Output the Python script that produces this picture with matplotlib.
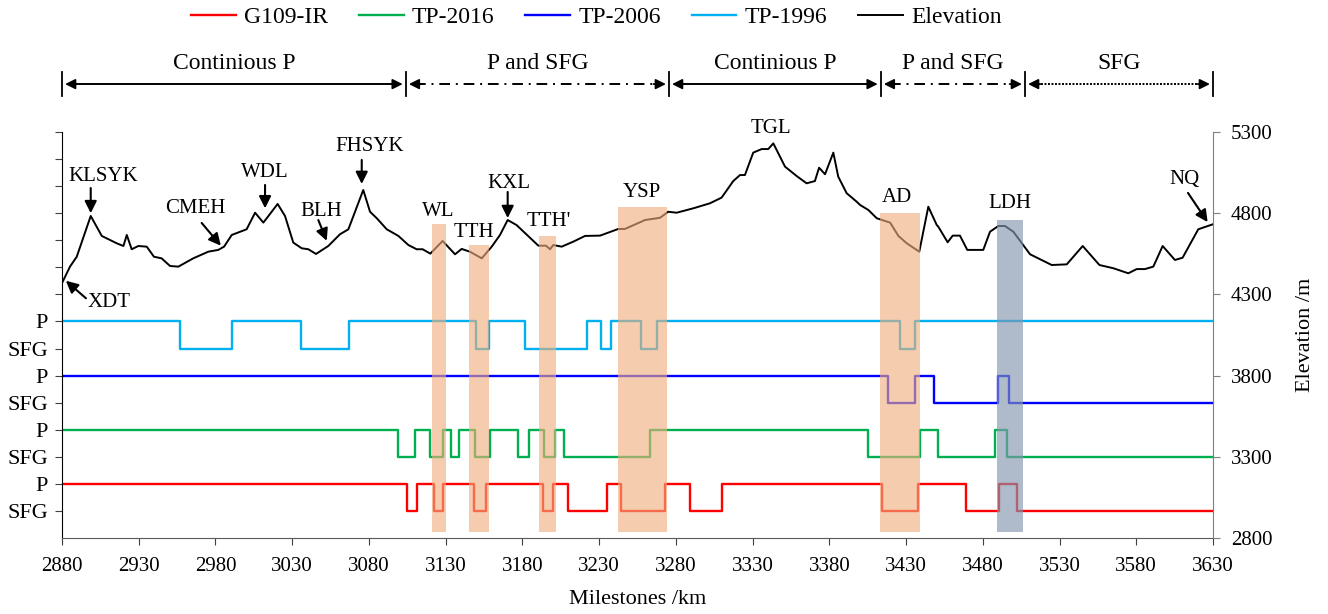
import numpy as np
import matplotlib
matplotlib.use("Agg")
from matplotlib import pyplot as plt
from matplotlib.transforms import blended_transform_factory

plt.rcParams['font.family'] = ['Liberation Serif', 'DejaVu Serif']
plt.rcParams['font.size'] = 15

# ---- data -------------------------------------------------------------
# pavement state along the road: 1 = P, 0 = SFG (steps-post breakpoints)
ir_x = [2880, 3104.5, 3111, 3122.5, 3128.5, 3148.5, 3156, 3193.5, 3200, 3210, 3235, 3244,
        3273, 3289, 3310, 3414.5, 3437.5, 3469, 3490.5, 3502.5, 3630]
ir_s = [1, 0, 1, 0, 1, 0, 1, 0, 1, 0, 1, 0, 1, 0, 1, 0, 1, 0, 1, 0, 0]

tp2016_x = [2880, 3099, 3110, 3120, 3128, 3133.5, 3139, 3149, 3159, 3177, 3184, 3194, 3201,
            3207, 3263, 3405, 3439, 3451, 3488, 3495.5, 3630]
tp2016_s = [1, 0, 1, 0, 1, 0, 1, 0, 1, 0, 1, 0, 1, 0, 1, 0, 1, 0, 1, 0, 0]

tp2006_x = [2880, 3418, 3436, 3448, 3490, 3497, 3630]
tp2006_s = [1, 0, 1, 0, 1, 0, 0]

tp1996_x = [2880, 2957, 2991, 3036, 3067, 3150, 3158, 3182, 3222, 3231, 3238, 3257, 3268,
            3426, 3436, 3630]
tp1996_s = [1, 0, 1, 0, 1, 0, 1, 0, 1, 0, 1, 0, 1, 0, 1, 1]

elev_km = [2880, 2885.2, 2889.6, 2898.7, 2905.9, 2915.6, 2920, 2922.2, 2925.4, 2929.7, 2935.2,
           2939.9, 2944.9, 2950.4, 2955.8, 2965.5, 2975.3, 2981.8, 2985.6, 2990.6, 3000.3,
           3005.8, 3011.2, 3020.5, 3025.3, 3030.7, 3036.2, 3040.5, 3045.5, 3053.5, 3061.1,
           3066.6, 3076.3, 3080.7, 3085.1, 3091.6, 3099.2, 3105.7, 3111.1, 3115, 3120, 3128,
           3136.1, 3140.4, 3145.8, 3153.5, 3160, 3165.4, 3170.4, 3176.2, 3190.4, 3195.4, 3198,
           3200.1, 3205.6, 3213.2, 3220.8, 3230.6, 3242.5, 3246.8, 3259.9, 3269.7, 3275,
           3280.5, 3291.3, 3302.2, 3309.8, 3317.4, 3321.8, 3325, 3330.4, 3335.9, 3340.2,
           3343.5, 3351.1, 3358.7, 3365.2, 3370.6, 3373.3, 3377.2, 3382.6, 3385.8, 3391.3,
           3397.8, 3400, 3405.4, 3410.9, 3419.6, 3425, 3430.4, 3438.6, 3444.5, 3450, 3451,
           3457.1, 3460.4, 3465.1, 3469.9, 3480.3, 3484.7, 3490.1, 3494.5, 3499.9, 3510.8,
           3524.9, 3534.7, 3545.1, 3556, 3565.1, 3574.8, 3580.3, 3585.7, 3591.1, 3597.2,
           3605.2, 3610.2, 3620.4, 3630]
elev_m = [4370, 4471, 4532, 4783, 4660, 4615, 4598, 4666, 4578, 4598, 4594,
          4532, 4522, 4475, 4471, 4522, 4563, 4574, 4594, 4666, 4701,
          4803, 4742, 4857, 4783, 4619, 4584, 4578, 4549, 4598, 4670,
          4701, 4943, 4809, 4769, 4701, 4660, 4604, 4578, 4578, 4551, 4629,
          4547, 4580, 4563, 4522, 4594, 4666, 4758, 4727, 4600, 4600, 4578,
          4604, 4594, 4625, 4660, 4662, 4703, 4703, 4758, 4772, 4809,
          4803, 4830, 4861, 4896, 4998, 5035, 5035, 5173, 5195, 5195,
          5230, 5087, 5029, 4984, 4998, 5080, 5040, 5173, 5025, 4923,
          4871, 4851, 4820, 4769, 4742, 4660, 4615, 4563, 4840, 4727, 4717,
          4621, 4662, 4662, 4574, 4574, 4686, 4721, 4721, 4686, 4547,
          4481, 4485, 4598, 4481, 4461, 4430, 4456, 4456, 4471, 4598,
          4512, 4526, 4701, 4732]

# shaded sections: start, end, top elevation
zone_start = [3121, 3145, 3191, 3242, 3413, 3489]
zone_end = [3130, 3158, 3202, 3274, 3439, 3506]
zone_top = [4733, 4604, 4661, 4840, 4799, 4758]
zone_grey = [False, False, False, False, False, True]

# place names: label, text position, arrow (from -> to) or None
names = ['XDT', 'KLSYK', 'CMEH', 'WDL', 'BLH', 'FHSYK', 'WL', 'TTH', 'KXL', "TTH'",
         'YSP', 'TGL', 'AD', 'LDH', 'NQ']
name_xy = [(2910.6, 4253), (2906.7, 5025), (2966.7, 4826), (3012.3, 5050), (3048.8, 4809),
           (3080.7, 5210), (3125, 4809), (3148.5, 4680), (3171.3, 4980), (3197.3, 4752),
           (3257.9, 4926), (3342, 5320), (3424, 4898), (3497.7, 4857), (3611.7, 5005)]
name_arrow = [((2895.6, 4276), (2882.5, 4384)), ((2898.7, 4955), (2898.7, 4800)),
              ((2971, 4740), (2983.5, 4600)), ((3012.3, 4974), (3012.3, 4830)),
              ((3047, 4758), (3052.5, 4630)), ((3075.3, 5128), (3075.3, 4980)),
              None, None, ((3170.4, 4931), (3170.4, 4770)), None,
              None, None, None, None, ((3613.7, 4925), (3626.5, 4745))]

# road sections above the plot
sec_edges = [2880, 3104, 3275.5, 3413.5, 3507.5, 3630]
sec_labels = ['Continious P', 'P and SFG', 'Continious P', 'P and SFG', 'SFG']
sec_styles = ['-', (0, (5.5, 3, 1, 3)), '-', (0, (5.5, 3, 1, 3)), (0, (1, 0.8))]

# ---- figure -----------------------------------------------------------
fig = plt.figure(figsize=(13.28, 6.14), dpi=100)
ax = fig.add_axes([0.0467, 0.1238, 0.8667, 0.6612])
ax2 = ax.twinx()

series = [(tp1996_x, tp1996_s, 7, '#00B0F0', 'TP-1996'),
          (tp2006_x, tp2006_s, 5, '#0000FF', 'TP-2006'),
          (tp2016_x, tp2016_s, 3, '#00B050', 'TP-2016'),
          (ir_x, ir_s, 1, '#FF0000', 'G109-IR')]
handles = {}
for xs, ss, base, col, lab in series:
    h, = ax.plot(xs, np.array(ss) + base, drawstyle='steps-post', color=col, lw=1.7, label=lab)
    handles[lab] = h

ax.set_xlim(2880, 3630)
ax.set_ylim(0, 15)
ax.set_yticks(range(1, 16))
ax.set_yticklabels(['SFG', 'P'] * 4 + [''] * 7)
ax.set_xticks(np.arange(2880, 3631, 50))
ax.set_xlabel('Milestones /km', fontsize=16, labelpad=10)
ax.tick_params(axis='x', labelsize=15, length=5, color='#404040', pad=9)
ax.tick_params(axis='y', labelsize=16, length=5, color='#404040', pad=5)
for s in ['top', 'right']:
    ax.spines[s].set_visible(False)
ax.spines['left'].set_color('black')
ax.spines['bottom'].set_color('#595959')

hel, = ax2.plot(elev_km, elev_m, color='black', lw=1.4, label='Elevation')
handles['Elevation'] = hel
for x0, x1, top, grey in zip(zone_start, zone_end, zone_top, zone_grey):
    if grey:
        ax2.bar(x0, top - 2835, width=x1 - x0, bottom=2835, align='edge',
                color='#8497B0', alpha=0.65, lw=0, zorder=4)
    else:
        ax2.bar(x0, top - 2835, width=x1 - x0, bottom=2835, align='edge',
                color='#F0AE7C', alpha=0.62, lw=0, zorder=4)

ax2.set_ylim(2800, 5300)
ax2.set_yticks(np.arange(2800, 5301, 500))
ax2.set_ylabel('Elevation /m', fontsize=16, labelpad=17)
ax2.tick_params(axis='y', labelsize=15, length=5, color='#7f7f7f', pad=8)
for s in ['top', 'left', 'bottom']:
    ax2.spines[s].set_visible(False)
ax2.spines['right'].set_color('#7f7f7f')

for lab, (tx, ty), arr in zip(names, name_xy, name_arrow):
    ax2.text(tx, ty, lab, ha='center', va='center', fontsize=15, zorder=6)
    if arr is not None:
        ax2.annotate('', xy=arr[1], xytext=arr[0],
                     arrowprops=dict(arrowstyle='-|>', color='black', lw=1.5,
                                     mutation_scale=18, shrinkA=0, shrinkB=0))

# section arrows above the axes
trans = blended_transform_factory(ax.transData, ax.transAxes)
ya = 1.118
for x in sec_edges:
    ax.plot([x, x], [1.089, 1.148], color='black', lw=1.3, transform=trans, clip_on=False)
for i, lab in enumerate(sec_labels):
    x0 = sec_edges[i] + 2
    x1 = sec_edges[i + 1] - 2
    ax.plot([x0 + 4, x1 - 4], [ya, ya], color='black', lw=1.4, ls=sec_styles[i],
            transform=trans, clip_on=False)
    for a, b in [(x0 + 8, x0), (x1 - 8, x1)]:
        ax.annotate('', xy=(b, ya), xytext=(a, ya), xycoords=trans, textcoords=trans,
                    arrowprops=dict(arrowstyle='-|>', color='black', lw=1.3,
                                    mutation_scale=15, shrinkA=0, shrinkB=0),
                    annotation_clip=False)
    ax.text((sec_edges[i] + sec_edges[i + 1]) / 2, 1.168, lab, transform=trans,
            ha='center', va='center', fontsize=17)

order = ['G109-IR', 'TP-2016', 'TP-2006', 'TP-1996', 'Elevation']
fig.legend([handles[k] for k in order], order, loc='center', bbox_to_anchor=(0.449, 0.972),
           ncol=5, frameon=False, fontsize=17, handlelength=1.9, columnspacing=1.3,
           handletextpad=0.35)

fig.savefig('out.png', dpi=100)
